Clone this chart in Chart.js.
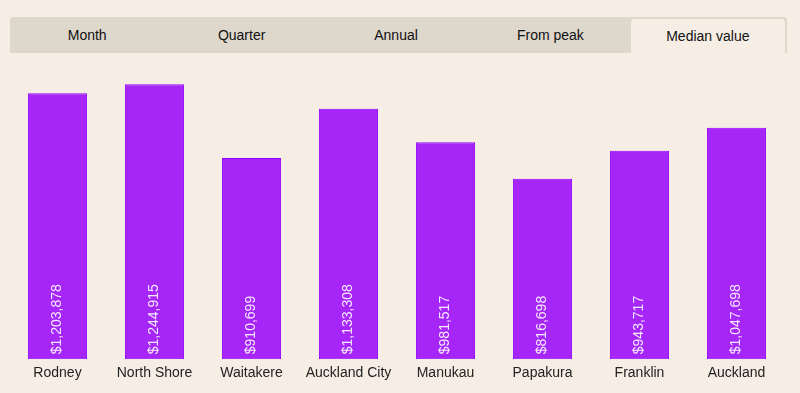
<!DOCTYPE html>
<html>
<head>
<meta charset="utf-8">
<script src="https://cdn.jsdelivr.net/npm/chart.js@4.4.0/dist/chart.umd.min.js"></script>
<style>
  html, body { margin: 0; padding: 0; background: #f6eee4; }
  #wrap { position: relative; width: 800px; height: 393px; background: #f6eee4; font-family: "Liberation Sans", Arial, sans-serif; }
  #chart { position: absolute; left: 0; top: 0; }
  #tabs { position: absolute; left: 10px; top: 17px; width: 777px; height: 36px; background: #ded7cb; border-radius: 3px 3px 0 0; display: flex; }
  .tab { flex: 1; text-align: center; line-height: 36px; font-size: 14px; color: #111; }
  .tab.active { background: #f6eee4; margin: 2px 2px 0 3px; line-height: 34px; border-radius: 4px 4px 0 0; }
</style>
</head>
<body>
<div id="wrap">
  <canvas id="chart" width="800" height="393"></canvas>
  <div id="tabs"></div>
</div>
<script>
const tabs = ["Month", "Quarter", "Annual", "From peak", "Median value"];
const activeTab = "Median value";
const categories = ["Rodney", "North Shore", "Waitakere", "Auckland City", "Manukau", "Papakura", "Franklin", "Auckland"];
const medianValues = [1203878, 1244915, 910699, 1133308, 981517, 816698, 943717, 1047698];

const tabsEl = document.getElementById('tabs');
tabs.forEach(t => {
  const d = document.createElement('div');
  d.className = 'tab' + (t === activeTab ? ' active' : '');
  d.textContent = t;
  tabsEl.appendChild(d);
});

const fmt = v => '$' + v.toLocaleString('en-US');

const valueLabels = {
  id: 'valueLabels',
  afterDatasetsDraw(chart) {
    const ctx = chart.ctx;
    const meta = chart.getDatasetMeta(0);
    ctx.save();
    ctx.font = '14px "Liberation Sans", Arial, sans-serif';
    ctx.fillStyle = '#f6e8ff';
    ctx.textAlign = 'left';
    ctx.textBaseline = 'middle';
    meta.data.forEach((bar, i) => {
      ctx.save();
      ctx.translate(bar.x, bar.base - 5);
      ctx.rotate(-Math.PI / 2);
      ctx.fillText(fmt(medianValues[i]), 0, 0);
      ctx.restore();
    });
    ctx.restore();
  }
};

new Chart(document.getElementById('chart'), {
  type: 'bar',
  data: {
    labels: categories,
    datasets: [{
      data: medianValues,
      backgroundColor: '#a526f6',
      borderColor: '#9500ff',
      borderWidth: 1,
      borderSkipped: false,
      categoryPercentage: 0.61,
      barPercentage: 1
    }]
  },
  options: {
    responsive: false,
    animation: false,
    devicePixelRatio: 1,
    layout: { padding: { left: 9, right: 15, top: 72, bottom: 5 } },
    plugins: { legend: { display: false }, tooltip: { enabled: false } },
    scales: {
      x: {
        grid: { display: false, drawTicks: false },
        border: { display: false },
        ticks: { color: '#222', font: { size: 14, family: '"Liberation Sans", Arial, sans-serif' }, padding: 6, maxRotation: 0, autoSkip: false }
      },
      y: { display: false, min: 0, max: 1300000 }
    }
  },
  plugins: [valueLabels]
});
</script>
</body>
</html>
